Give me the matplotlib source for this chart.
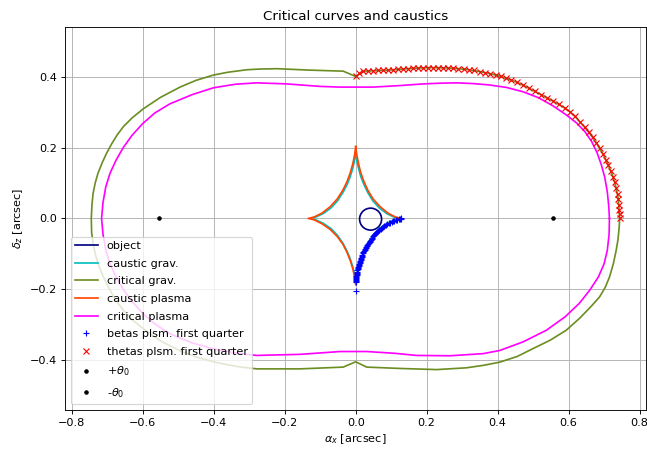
import numpy as np
import matplotlib
matplotlib.use("Agg")
import matplotlib.pyplot as plt
from matplotlib.patches import Circle
from matplotlib.lines import Line2D

# ---- source (object) ----
object_center = (0.042, -0.002)
object_radius = 0.031

# ---- caustic, point-mass (gravitational) lens ----
caustic_grav_x = [0.0, -0.003, -0.008, -0.015, -0.024, -0.036, -0.051, -0.069, -0.091, -0.112, -0.128,
                  -0.112, -0.091, -0.069, -0.051, -0.036, -0.024, -0.015, -0.008, -0.003, 0.0,
                  0.003, 0.008, 0.014, 0.023, 0.034, 0.048, 0.066, 0.087, 0.107, 0.122,
                  0.107, 0.087, 0.066, 0.048, 0.034, 0.023, 0.014, 0.008, 0.003, 0.0]
caustic_grav_y = [0.186, 0.165, 0.142, 0.119, 0.096, 0.073, 0.050, 0.030, 0.014, 0.004, 0.0,
                  -0.004, -0.014, -0.029, -0.048, -0.070, -0.093, -0.115, -0.137, -0.159, -0.180,
                  -0.159, -0.137, -0.115, -0.093, -0.070, -0.048, -0.029, -0.014, -0.004, 0.0,
                  0.004, 0.014, 0.030, 0.050, 0.073, 0.096, 0.119, 0.142, 0.165, 0.186]

# ---- caustic with plasma ----
caustic_plasma_x = [0.0, -0.003, -0.008, -0.015, -0.024, -0.036, -0.052, -0.072, -0.095, -0.117, -0.134,
                    -0.117, -0.095, -0.072, -0.052, -0.036, -0.024, -0.015, -0.008, -0.003, 0.0,
                    0.003, 0.008, 0.014, 0.023, 0.034, 0.049, 0.069, 0.091, 0.112, 0.129,
                    0.112, 0.091, 0.069, 0.049, 0.034, 0.023, 0.014, 0.008, 0.003, 0.0]
caustic_plasma_y = [0.203, 0.180, 0.155, 0.130, 0.105, 0.080, 0.055, 0.033, 0.015, 0.004, 0.0,
                    -0.004, -0.015, -0.031, -0.051, -0.073, -0.097, -0.120, -0.143, -0.166, -0.188,
                    -0.166, -0.143, -0.120, -0.097, -0.073, -0.051, -0.031, -0.015, -0.004, 0.0,
                    0.004, 0.015, 0.033, 0.055, 0.080, 0.105, 0.130, 0.155, 0.180, 0.203]

# ---- critical curve, gravitational ----
critical_grav_x = [0.744, 0.740, 0.734, 0.725, 0.712, 0.697, 0.678, 0.657, 0.632, 0.604, 0.573, 0.539,
                   0.505, 0.471, 0.439, 0.409, 0.379, 0.349, 0.319, 0.289, 0.260, 0.218, 0.176, 0.134,
                   0.092, 0.050, 0.022, 0.000,
                   -0.035, -0.130, -0.222, -0.270, -0.307, -0.360, -0.401, -0.450, -0.495, -0.550,
                   -0.598, -0.630, -0.654, -0.672, -0.688, -0.702, -0.714, -0.726, -0.734, -0.740,
                   -0.743, -0.745,
                   -0.744, -0.740, -0.734, -0.726, -0.714, -0.702, -0.688, -0.672, -0.654, -0.630,
                   -0.598, -0.550, -0.495, -0.448, -0.401, -0.373, -0.330, -0.279, -0.157, -0.035,
                   0.000,
                   0.031, 0.130, 0.228, 0.312, 0.360, 0.406, 0.455, 0.499, 0.548, 0.593, 0.631,
                   0.662, 0.687, 0.703, 0.715, 0.726, 0.734, 0.739, 0.742, 0.744]
critical_grav_y = [0.000, 0.054, 0.086, 0.118, 0.150, 0.182, 0.214, 0.243, 0.273, 0.302, 0.322, 0.341,
                   0.359, 0.377, 0.391, 0.401, 0.409, 0.415, 0.420, 0.423, 0.425, 0.426, 0.425, 0.422,
                   0.419, 0.417, 0.416, 0.401,
                   0.416, 0.419, 0.423, 0.422, 0.420, 0.413, 0.405, 0.390, 0.371, 0.342,
                   0.310, 0.284, 0.260, 0.236, 0.210, 0.184, 0.158, 0.128, 0.100, 0.070,
                   0.040, 0.000,
                   -0.040, -0.070, -0.100, -0.128, -0.158, -0.184, -0.210, -0.236, -0.260, -0.286,
                   -0.312, -0.346, -0.374, -0.392, -0.405, -0.411, -0.419, -0.425, -0.425, -0.420,
                   -0.405,
                   -0.420, -0.424, -0.427, -0.422, -0.415, -0.406, -0.390, -0.368, -0.344, -0.316,
                   -0.282, -0.250, -0.222, -0.195, -0.166, -0.128, -0.090, -0.060, -0.030, 0.000]

# ---- critical curve with plasma ----
critical_plasma_x = [0.715, 0.713, 0.709, 0.702, 0.692, 0.680, 0.665, 0.646, 0.622, 0.594, 0.556, 0.515,
                     0.471, 0.425, 0.377, 0.330, 0.284, 0.237, 0.190, 0.120, 0.049,
                     -0.045, -0.101, -0.194, -0.279, -0.340, -0.401, -0.460, -0.523, -0.566, -0.600,
                     -0.630, -0.655, -0.675, -0.692, -0.704, -0.712, -0.716,
                     -0.712, -0.704, -0.692, -0.675, -0.655, -0.630, -0.600, -0.566, -0.523, -0.460,
                     -0.401, -0.340, -0.279, -0.157, -0.044,
                     0.031, 0.110, 0.171, 0.265, 0.359, 0.406, 0.471, 0.537, 0.590, 0.630, 0.660,
                     0.684, 0.700, 0.709, 0.714, 0.715]
critical_plasma_y = [0.000, 0.035, 0.075, 0.115, 0.152, 0.186, 0.217, 0.245, 0.270, 0.292, 0.318, 0.341,
                     0.358, 0.370, 0.377, 0.381, 0.383, 0.382, 0.380, 0.375, 0.371,
                     0.371, 0.373, 0.380, 0.383, 0.379, 0.369, 0.350, 0.324, 0.298, 0.268,
                     0.235, 0.200, 0.165, 0.128, 0.090, 0.045, 0.000,
                     -0.045, -0.090, -0.128, -0.165, -0.200, -0.235, -0.268, -0.298, -0.326, -0.352,
                     -0.368, -0.380, -0.387, -0.384, -0.376,
                     -0.376, -0.381, -0.387, -0.388, -0.382, -0.373, -0.349, -0.316, -0.278, -0.240,
                     -0.202, -0.165, -0.128, -0.090, -0.045, 0.000]

# ---- source positions (betas), first quarter ----
betas_x = [0.000, 0.000, 0.000, 0.001, 0.001, 0.001, 0.002, 0.002, 0.003, 0.003, 0.004, 0.004,
           0.005, 0.006, 0.006, 0.007, 0.008, 0.009, 0.010, 0.011, 0.012, 0.013, 0.014, 0.015,
           0.016, 0.017, 0.018, 0.019, 0.020, 0.022, 0.023, 0.025, 0.026, 0.028, 0.029, 0.031,
           0.033, 0.035, 0.037, 0.039, 0.041, 0.043, 0.045, 0.047, 0.050, 0.052, 0.055, 0.058,
           0.061, 0.064, 0.067, 0.070, 0.073, 0.077, 0.081, 0.085, 0.089, 0.093, 0.097, 0.101,
           0.105, 0.109, 0.113, 0.117, 0.121, 0.124, 0.127, 0.129]
betas_y = [-0.205, -0.180, -0.177, -0.174, -0.171, -0.168, -0.165, -0.162, -0.159, -0.156, -0.153,
           -0.150, -0.147, -0.144, -0.141, -0.138, -0.135, -0.132, -0.129, -0.126, -0.123, -0.120,
           -0.117, -0.114, -0.111, -0.108, -0.105, -0.102, -0.099, -0.096, -0.093, -0.090, -0.087,
           -0.084, -0.081, -0.078, -0.075, -0.072, -0.069, -0.066, -0.063, -0.060, -0.057, -0.054,
           -0.051, -0.048, -0.045, -0.042, -0.039, -0.036, -0.033, -0.030, -0.027, -0.024, -0.021,
           -0.018, -0.016, -0.014, -0.012, -0.010, -0.008, -0.007, -0.005, -0.004, -0.003, -0.002,
           -0.001, 0.000]

# ---- image positions (thetas), first quarter ----
thetas_x = [0.000, 0.010, 0.022, 0.036, 0.050, 0.064, 0.078, 0.092, 0.106, 0.120, 0.134, 0.148,
            0.162, 0.176, 0.190, 0.204, 0.218, 0.232, 0.246, 0.260, 0.274, 0.289, 0.304, 0.319,
            0.334, 0.349, 0.364, 0.379, 0.394, 0.409, 0.424, 0.439, 0.454, 0.471, 0.488, 0.505,
            0.522, 0.539, 0.556, 0.573, 0.589, 0.604, 0.618, 0.632, 0.645, 0.657, 0.668, 0.678,
            0.688, 0.697, 0.705, 0.712, 0.719, 0.725, 0.730, 0.734, 0.738, 0.740, 0.742, 0.743,
            0.744, 0.744]
thetas_y = [0.401, 0.410, 0.416, 0.417, 0.417, 0.418, 0.418, 0.419, 0.420, 0.421, 0.422, 0.423,
            0.424, 0.425, 0.425, 0.426, 0.426, 0.426, 0.425, 0.425, 0.424, 0.423, 0.422, 0.420,
            0.418, 0.415, 0.412, 0.409, 0.405, 0.401, 0.396, 0.391, 0.385, 0.377, 0.368, 0.359,
            0.350, 0.341, 0.331, 0.322, 0.313, 0.302, 0.288, 0.273, 0.258, 0.243, 0.229, 0.214,
            0.198, 0.182, 0.166, 0.150, 0.134, 0.118, 0.102, 0.086, 0.070, 0.054, 0.038, 0.024,
            0.012, 0.000]

# ---- +/- theta_0 ----
theta0 = 0.555

fig = plt.figure(figsize=(8, 5.552), dpi=80.875)
ax = fig.add_axes([0.1005, 0.087, 0.8985, 0.853])

ax.add_patch(Circle(object_center, object_radius, fill=False, ec="navy", lw=1.5, zorder=2))
ax.plot(caustic_grav_x, caustic_grav_y, color="c", lw=1.5, label="caustic grav.")
ax.plot(critical_grav_x, critical_grav_y, color="olivedrab", lw=1.5, label="critical grav.")
ax.plot(caustic_plasma_x, caustic_plasma_y, color="orangered", lw=1.5, label="caustic plasma")
ax.plot(critical_plasma_x, critical_plasma_y, color="magenta", lw=1.5, label="critical plasma")
ax.plot(betas_x, betas_y, "b+", label="betas plsm. first quarter")
ax.plot(thetas_x, thetas_y, "rx", label="thetas plsm. first quarter")
ax.plot([theta0], [0.0], "k.", label=r"$+\theta_0$")
ax.plot([-theta0], [0.0], "k.", label=r"-$\theta_0$")

handles, labels = ax.get_legend_handles_labels()
handles = [Line2D([], [], color="navy", lw=1.5)] + handles
labels = ["object"] + labels
ax.legend(handles, labels, loc="lower left", labelspacing=0.68)

ax.set_xlim(-0.819, 0.819)
ax.set_ylim(-0.541, 0.541)
ax.set_xticks(np.arange(-0.8, 0.81, 0.2))
ax.set_yticks([-0.4, -0.2, 0.0, 0.2, 0.4])
ax.grid(True)
ax.set_title("Critical curves and caustics")
ax.set_xlabel(r"$\alpha_x$ [arcsec]")
ax.set_ylabel(r"$\delta_z$ [arcsec]")

fig.savefig("out.png", dpi=80.875)
